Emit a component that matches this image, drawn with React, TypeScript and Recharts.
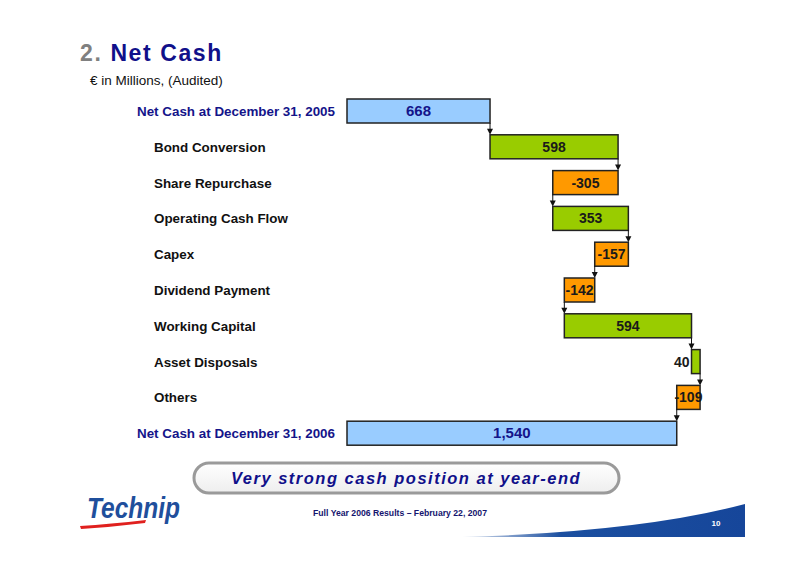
import React from 'react';
import { ComposedChart, Bar, XAxis, YAxis } from 'recharts';

const categories = [
  'Net Cash at December 31, 2005',
  'Bond Conversion',
  'Share Repurchase',
  'Operating Cash Flow',
  'Capex',
  'Dividend Payment',
  'Working Capital',
  'Asset Disposals',
  'Others',
  'Net Cash at December 31, 2006',
];
const values = [668, 598, -305, 353, -157, -142, 594, 40, -109, 1540];
const valueLabels = ['668', '598', '-305', '353', '-157', '-142', '594', '40', '-109', '1,540'];
const isTotal = [true, false, false, false, false, false, false, false, false, true];

const CHART_W = 800;
const CHART_H = 565;
const M_TOP = 93;
const M_BOTTOM = 114;
const M_RIGHT = 89;
const Y_W = 347;
const BAR_SIZE = 24;
const PITCH = (CHART_H - M_TOP - M_BOTTOM) / categories.length;

const FONT = '"Liberation Sans", Arial, Helvetica, sans-serif';
const NAVY = '#14148a';
const BLUE_FILL = '#99ccff';
const GREEN_FILL = '#99cc00';
const ORANGE_FILL = '#ff9900';

let running = 0;
const data = categories.map((name, i) => {
  const v = values[i];
  let start: number;
  let end: number;
  if (isTotal[i]) {
    start = 0;
    end = v;
  } else {
    start = running;
    end = running + v;
  }
  running = end;
  return {
    name,
    offset: Math.min(start, end),
    span: Math.abs(v),
    value: v,
    label: valueLabels[i],
    total: isTotal[i],
    last: i === categories.length - 1,
  };
});

const StepShape = (props: any) => {
  const { x, y, width, height, payload } = props;
  const fill = payload.total ? BLUE_FILL : payload.value >= 0 ? GREEN_FILL : ORANGE_FILL;
  const endX = payload.total || payload.value >= 0 ? x + width : x;
  const gap = PITCH - height;
  const bottom = y + height;
  const small = width < 14;
  const labelX = small ? x - 2 : x + width / 2;
  const anchor = small ? 'end' : 'middle';
  return (
    <g>
      <rect x={x} y={y} width={width} height={height} fill={fill} stroke="#222" strokeWidth={1.5} />
      <text
        x={labelX}
        y={y + height / 2 + 5}
        textAnchor={anchor}
        fontFamily={FONT}
        fontWeight="bold"
        fontSize={payload.total ? 15 : 14}
        fill={payload.total ? NAVY : '#1a1a1a'}
      >
        {payload.label}
      </text>
      {!payload.last && (
        <g>
          <line x1={endX} y1={bottom} x2={endX} y2={bottom + gap - 5} stroke="#111" strokeWidth={1} />
          <path d={`M ${endX - 3} ${bottom + gap - 6} L ${endX + 3} ${bottom + gap - 6} L ${endX} ${bottom + gap} Z`} fill="#111" />
        </g>
      )}
    </g>
  );
};

const CategoryTick = (props: any) => {
  const { y, payload, index } = props;
  const total = isTotal[index];
  return (
    <text
      x={total ? 335 : 154}
      y={y + 5}
      textAnchor={total ? 'end' : 'start'}
      fontFamily={FONT}
      fontWeight="bold"
      fontSize={13.4}
      fill={total ? NAVY : '#111'}
    >
      {payload.value}
    </text>
  );
};

export default function App() {
  return (
    <div style={{ position: 'absolute', left: 0, top: 0, width: CHART_W, height: CHART_H, background: '#fff' }}>
      <ComposedChart
        width={CHART_W}
        height={CHART_H}
        data={data}
        layout="vertical"
        margin={{ top: M_TOP, right: M_RIGHT, bottom: M_BOTTOM, left: 0 }}
        barSize={BAR_SIZE}
      >
        <XAxis type="number" hide domain={[0, 1700]} />
        <YAxis
          type="category"
          dataKey="name"
          width={Y_W}
          axisLine={false}
          tickLine={false}
          interval={0}
          tick={<CategoryTick />}
        />
        <Bar dataKey="offset" stackId="a" fill="transparent" isAnimationActive={false} />
        <Bar dataKey="span" stackId="a" shape={<StepShape />} isAnimationActive={false} />
      </ComposedChart>
      <svg
        width={CHART_W}
        height={CHART_H}
        style={{ position: 'absolute', left: 0, top: 0, pointerEvents: 'none' }}
      >
        <defs>
          <linearGradient id="swoosh" x1="0" x2="1" y1="0" y2="0">
            <stop offset="0" stopColor="#1b4fa0" stopOpacity={0.15} />
            <stop offset="0.35" stopColor="#1b4fa0" stopOpacity={1} />
            <stop offset="1" stopColor="#16469a" stopOpacity={1} />
          </linearGradient>
          <linearGradient id="boxFill" x1="0" x2="0" y1="0" y2="1">
            <stop offset="0" stopColor="#ffffff" />
            <stop offset="1" stopColor="#eeeeee" />
          </linearGradient>
        </defs>
        <text x={80} y={61} fontFamily={FONT} fontWeight="bold" fontSize={23} letterSpacing={1.6}>
          <tspan fill="#808080">2. </tspan>
          <tspan fill="#10108a">Net Cash</tspan>
        </text>
        <text x={90} y={85} fontFamily={FONT} fontSize={13.5} fill="#111">
          € in Millions, (Audited)
        </text>
        <rect x={194} y={463} width={425} height={30} rx={15} ry={15} fill="url(#boxFill)" stroke="#9a9a9a" strokeWidth={3} />
        <text
          x={406}
          y={484}
          textAnchor="middle"
          fontFamily={FONT}
          fontWeight="bold"
          fontStyle="italic"
          fontSize={16.5}
          letterSpacing={1.5}
          fill="#10108a"
        >
          Very strong cash position at year-end
        </text>
        <text
          x={87}
          y={518}
          fontFamily={FONT}
          fontWeight="bold"
          fontStyle="italic"
          fontSize={29}
          textLength={93}
          lengthAdjust="spacingAndGlyphs"
          fill="#1f4f9c"
        >
          Technip
        </text>
        <path d="M 80 526 Q 110 524 146 520 L 145 523 Q 112 527 81 529 Z" fill="#e0201e" />
        <text
          x={400}
          y={516}
          textAnchor="middle"
          fontFamily={FONT}
          fontWeight="bold"
          fontSize={8.5}
          textLength={174}
          lengthAdjust="spacingAndGlyphs"
          fill="#14146e"
        >
          Full Year 2006 Results – February 22, 2007
        </text>
        <path d="M 462 537 Q 640 532 745 504 L 745 537 Z" fill="url(#swoosh)" />
        <text x={716} y={526} textAnchor="middle" fontFamily={FONT} fontWeight="bold" fontSize={8} fill="#ffffff">
          10
        </text>
      </svg>
    </div>
  );
}
